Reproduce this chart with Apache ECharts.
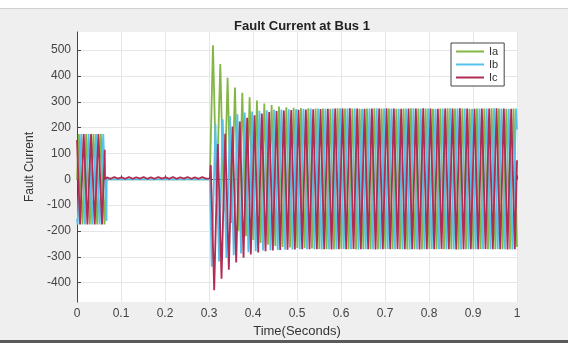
<!DOCTYPE html>
<html>
<head>
<meta charset="utf-8">
<title>Fault Current at Bus 1</title>
<script src="https://cdn.jsdelivr.net/npm/echarts@6/dist/echarts.min.js"></script>
<style>
  html, body { margin: 0; padding: 0; background: #fff; }
  #chart { width: 568px; height: 343px; }
</style>
</head>
<body>
<div id="chart"></div>
<script>
// time in ms, current in A
const yTicks = [-400, -300, -200, -100, 0, 100, 200, 300, 400, 500];
const phaseNames = ['Ia', 'Ib', 'Ic'];

// before the fault: load current, then the breaker opens around 65 ms
const iaPre = [[0, 0], [4.2, 175], [12.5, -175], [20.8, 175], [29.2, -175], [37.5, 175], [45.8, -175], [54.2, 175], [62.5, -175], [66.7, 0], [302, 0]];
const ibPre = [[0, -152], [1.4, -175], [9.7, 175], [18.1, -175], [26.4, 175], [34.7, -175], [43.1, 175], [51.4, -175], [59.7, 175], [67.0, -161], [67.5, 0], [302, 0]];
const icPre = [[0, 152], [6.9, -175], [15.3, 175], [23.6, -175], [31.9, 175], [40.3, -175], [48.6, 175], [56.9, -175], [63.0, 114], [63.5, 0],
  [68.0, 8], [76.3, 2], [84.7, 9], [93.0, 3], [101.3, 8], [109.7, 2], [118.0, 9], [126.3, 2], [134.7, 8], [143.0, 3], [151.3, 9], [159.7, 2],
  [168.0, 8], [176.3, 2], [184.7, 9], [193.0, 3], [201.3, 8], [209.7, 2], [218.0, 9], [226.3, 2], [234.7, 8], [243.0, 3], [251.3, 9], [259.7, 2],
  [268.0, 8], [276.3, 2], [284.7, 9], [293.0, 3], [302, 4]];

// fault at ~0.3 s: decaying dc offset, then steady ~±272 A
const iaFault = [[309.0, 519], [317.3, -65], [325.7, 446], [334.0, -126], [342.3, 393], [350.7, -169], [359.0, 355], [367.3, -199],
  [375.7, 335], [384.0, -220], [392.3, 317], [400.7, -235], [409.0, 305], [417.3, -246], [425.7, 293], [434.0, -253], [442.3, 287], [450.7, -258],
  [459.0, 282], [467.3, -262], [475.7, 279], [484.0, -264], [492.3, 277], [500.7, -266], [509.0, 276], [517.3, -267], [525.7, 275], [534.0, -268],
  [542.3, 274], [550.7, -269], [559.0, 274], [567.3, -270], [575.7, 273], [584.0, -270], [592.3, 275], [600.7, -269], [609.0, 274], [617.3, -270],
  [625.7, 274], [634.0, -271], [642.3, 273], [650.7, -270], [659.0, 274], [667.3, -270], [675.7, 275], [684.0, -270], [692.3, 274], [700.7, -269],
  [709.0, 274], [717.3, -270], [725.7, 273], [734.0, -270], [742.3, 274], [750.7, -271], [759.0, 275], [767.3, -270], [775.7, 274], [784.0, -270],
  [792.3, 274], [800.7, -269], [809.0, 273], [817.3, -270], [825.7, 274], [834.0, -270], [842.3, 275], [850.7, -270], [859.0, 274], [867.3, -271],
  [875.7, 274], [884.0, -270], [892.3, 273], [900.7, -270], [909.0, 274], [917.3, -269], [925.7, 274], [934.0, -270], [942.3, 275], [950.7, -270],
  [959.0, 274], [967.3, -270], [975.7, 273], [984.0, -270], [992.3, 274], [1000, -262]];
const ibFault = [[306.2, -338], [314.6, 215], [322.9, -318], [331.2, 232], [339.6, -304], [347.9, 244], [356.2, -294], [364.6, 252],
  [372.9, -287], [381.2, 258], [389.6, -282], [397.9, 262], [406.2, -278], [414.6, 265], [422.9, -275], [431.2, 267], [439.6, -274], [447.9, 269],
  [456.2, -273], [464.6, 270], [472.9, -272], [481.2, 271], [489.6, -271], [497.9, 272], [506.2, -270], [514.6, 273], [522.9, -270], [531.2, 274],
  [539.6, -270], [547.9, 274], [556.2, -271], [564.6, 273], [572.9, -270], [581.2, 274], [589.6, -270], [597.9, 275], [606.2, -269], [614.6, 274],
  [622.9, -270], [631.2, 274], [639.6, -271], [647.9, 273], [656.2, -270], [664.6, 274], [672.9, -270], [681.2, 275], [689.6, -270], [697.9, 274],
  [706.2, -269], [714.6, 274], [722.9, -270], [731.2, 273], [739.6, -270], [747.9, 274], [756.2, -271], [764.6, 275], [772.9, -270], [781.2, 274],
  [789.6, -270], [797.9, 274], [806.2, -269], [814.6, 273], [822.9, -270], [831.2, 274], [839.6, -270], [847.9, 275], [856.2, -270], [864.6, 274],
  [872.9, -271], [881.2, 274], [889.6, -270], [897.9, 273], [906.2, -270], [914.6, 274], [922.9, -269], [931.2, 274], [939.6, -270], [947.9, 275],
  [956.2, -270], [964.6, 274], [972.9, -270], [981.2, 273], [989.6, -271], [997.9, 274], [1000, 193]];
const icFault = [[304.0, 55], [311.8, -429], [320.1, 137], [328.5, -385], [336.8, 176], [345.1, -350], [353.5, 204], [361.8, -322],
  [370.1, 224], [378.5, -303], [386.8, 238], [395.1, -291], [403.5, 248], [411.8, -283], [420.1, 255], [428.5, -278], [436.8, 260], [445.1, -275],
  [453.5, 264], [461.8, -273], [470.1, 266], [478.5, -272], [486.8, 268], [495.1, -271], [503.5, 269], [511.8, -270], [520.1, 270], [528.5, -270],
  [536.8, 271], [545.1, -270], [553.5, 272], [561.8, -270], [570.1, 273], [578.5, -271], [586.8, 274], [595.1, -270], [603.5, 274], [611.8, -270],
  [620.1, 275], [628.5, -269], [636.8, 274], [645.1, -270], [653.5, 273], [661.8, -270], [670.1, 274], [678.5, -271], [686.8, 274], [695.1, -270],
  [703.5, 275], [711.8, -270], [720.1, 274], [728.5, -269], [736.8, 273], [745.1, -270], [753.5, 274], [761.8, -270], [770.1, 274], [778.5, -271],
  [786.8, 275], [795.1, -270], [803.5, 274], [811.8, -270], [820.1, 273], [828.5, -269], [836.8, 274], [845.1, -270], [853.5, 274], [861.8, -271],
  [870.1, 275], [878.5, -270], [886.8, 274], [895.1, -270], [903.5, 273], [911.8, -270], [920.1, 274], [928.5, -269], [936.8, 274], [945.1, -270],
  [953.5, 275], [961.8, -270], [970.1, 274], [978.5, -271], [986.8, 273], [995.1, -270], [1000, 74]];

const phaseColors = ['#84b646', '#55c1ec', '#b02c52'];

function toSeconds(points) {
  return points.map(p => [p[0] / 1000, p[1]]);
}

const traces = [
  iaPre.concat(iaFault),
  ibPre.concat(ibFault),
  icPre.concat(icFault)
];

const chart = echarts.init(document.getElementById('chart'));

const option = {
  animation: false,
  backgroundColor: '#efefef',
  textStyle: { fontFamily: 'Liberation Sans, Arial, sans-serif' },
  graphic: [
    { type: 'rect', silent: true, shape: { x: 0, y: 0, width: 568, height: 8 }, style: { fill: '#ffffff' } },
    { type: 'rect', silent: true, shape: { x: 0, y: 8, width: 568, height: 1 }, style: { fill: '#d0d0d0' } },
    { type: 'rect', silent: true, shape: { x: 0, y: 340, width: 568, height: 3 }, style: { fill: '#5a5a5a' } }
  ],
  title: {
    text: 'Fault Current at Bus 1',
    left: 297,
    textAlign: 'center',
    top: 15,
    textStyle: { fontSize: 13, fontWeight: 'bold', color: '#222' }
  },
  legend: {
    data: phaseNames,
    orient: 'vertical',
    left: 451,
    top: 43,
    icon: 'rect',
    itemWidth: 28,
    itemHeight: 2,
    itemGap: 2,
    padding: [3, 6, 3, 5],
    backgroundColor: '#fff',
    borderColor: '#444',
    borderWidth: 1,
    textStyle: { fontSize: 11, color: '#333', lineHeight: 11 }
  },
  grid: {
    left: 77,
    right: 51,
    top: 32,
    bottom: 38,
    show: true,
    backgroundColor: '#fff',
    borderWidth: 0
  },
  xAxis: {
    type: 'value',
    min: 0,
    max: 1,
    interval: 0.1,
    name: 'Time(Seconds)',
    nameLocation: 'middle',
    nameGap: 19,
    nameTextStyle: { fontSize: 13, color: '#333' },
    axisLine: { lineStyle: { color: '#444' } },
    axisTick: { inside: true, length: 4, lineStyle: { color: '#444' } },
    axisLabel: { fontSize: 12, color: '#444', margin: 6 },
    splitLine: { lineStyle: { color: '#e6e6e6' } }
  },
  yAxis: {
    type: 'value',
    min: -475,
    max: 570,
    name: 'Fault Current',
    nameLocation: 'middle',
    nameGap: 30,
    nameTextStyle: { fontSize: 12, color: '#333' },
    axisLine: { show: true, lineStyle: { color: '#444' } },
    axisTick: { show: true, inside: true, length: 4, customValues: yTicks, lineStyle: { color: '#444' } },
    axisLabel: { fontSize: 12, color: '#444', margin: 6, customValues: yTicks },
    splitLine: { lineStyle: { color: '#e6e6e6' } }
  },
  series: traces.map((points, i) => ({
    name: phaseNames[i],
    type: 'line',
    data: toSeconds(points),
    symbol: 'none',
    clip: true,
    color: phaseColors[i],
    lineStyle: { width: 1.8, color: phaseColors[i] }
  }))
};

chart.setOption(option);
</script>
</body>
</html>
